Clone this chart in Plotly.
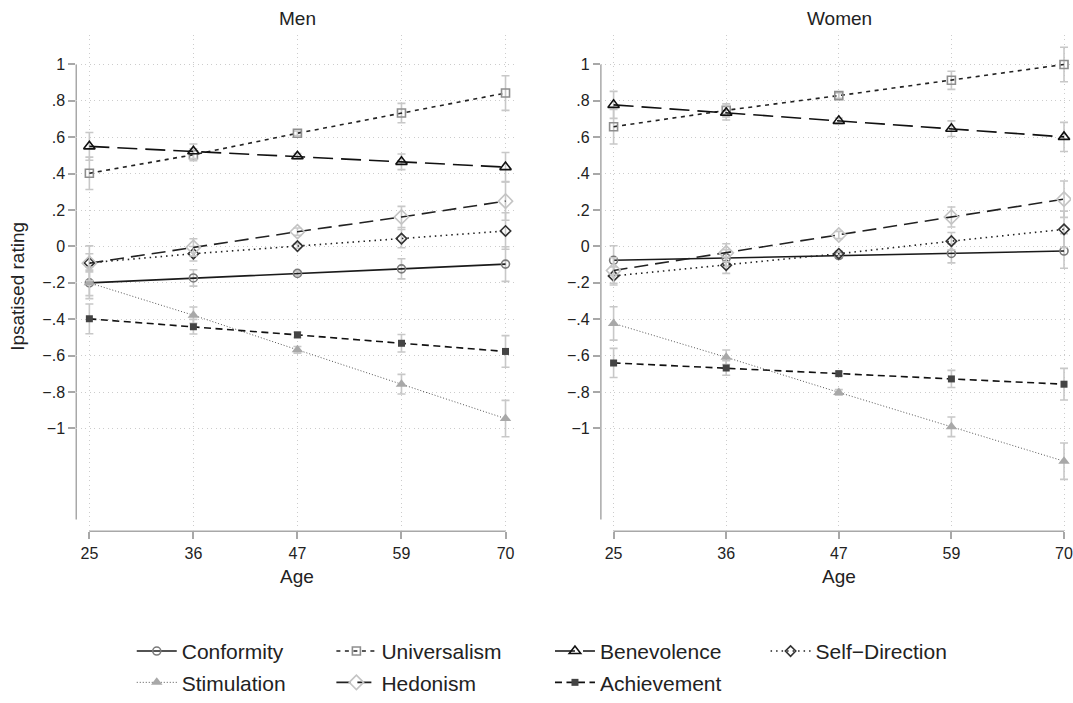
import plotly.graph_objects as go

W, H = 1073, 703

# ---------------- data ----------------
ages = ["25", "36", "47", "59", "70"]
series_names = ["Conformity", "Universalism", "Benevolence", "Self\u2212Direction",
                "Stimulation", "Hedonism", "Achievement"]

men_conformity = [-0.200, -0.173, -0.148, -0.123, -0.097]
men_universalism = [0.402, 0.504, 0.622, 0.733, 0.843]
men_benevolence = [0.550, 0.523, 0.496, 0.465, 0.436]
men_selfdirection = [-0.090, -0.040, 0.002, 0.043, 0.085]
men_stimulation = [-0.200, -0.378, -0.568, -0.757, -0.946]
men_hedonism = [-0.092, -0.005, 0.081, 0.162, 0.249]
men_achievement = [-0.398, -0.441, -0.486, -0.532, -0.577]

men_conformity_err = [0.070, 0.045, 0.012, 0.055, 0.095]
men_universalism_err = [0.089, 0.033, 0.012, 0.053, 0.095]
men_benevolence_err = [0.076, 0.040, 0.015, 0.043, 0.080]
men_selfdirection_err = [0.050, 0.040, 0.012, 0.050, 0.100]
men_stimulation_err = [0.087, 0.045, 0.018, 0.054, 0.100]
men_hedonism_err = [0.095, 0.047, 0.020, 0.058, 0.105]
men_achievement_err = [0.082, 0.040, 0.015, 0.048, 0.087]

women_conformity = [-0.076, -0.063, -0.050, -0.038, -0.025]
women_universalism = [0.658, 0.748, 0.829, 0.913, 1.000]
women_benevolence = [0.778, 0.735, 0.690, 0.647, 0.602]
women_selfdirection = [-0.162, -0.103, -0.040, 0.029, 0.094]
women_stimulation = [-0.423, -0.609, -0.802, -0.991, -1.180]
women_hedonism = [-0.132, -0.035, 0.063, 0.162, 0.260]
women_achievement = [-0.640, -0.668, -0.699, -0.728, -0.757]

women_conformity_err = [0.080, 0.045, 0.015, 0.052, 0.095]
women_universalism_err = [0.095, 0.036, 0.015, 0.050, 0.095]
women_benevolence_err = [0.074, 0.040, 0.015, 0.043, 0.080]
women_selfdirection_err = [0.050, 0.045, 0.015, 0.048, 0.100]
women_stimulation_err = [0.092, 0.040, 0.015, 0.054, 0.100]
women_hedonism_err = [0.070, 0.050, 0.020, 0.055, 0.100]
women_achievement_err = [0.080, 0.040, 0.012, 0.047, 0.087]

ytick_vals = [1, 0.8, 0.6, 0.4, 0.2, 0, -0.2, -0.4, -0.6, -0.8, -1]
ytick_text = ["1", ".8", ".6", ".4", ".2", "0", "\u2212.2", "\u2212.4", "\u2212.6", "\u2212.8", "\u22121"]

men = [(men_conformity, men_conformity_err), (men_universalism, men_universalism_err),
       (men_benevolence, men_benevolence_err), (men_selfdirection, men_selfdirection_err),
       (men_stimulation, men_stimulation_err), (men_hedonism, men_hedonism_err),
       (men_achievement, men_achievement_err)]
women = [(women_conformity, women_conformity_err), (women_universalism, women_universalism_err),
         (women_benevolence, women_benevolence_err), (women_selfdirection, women_selfdirection_err),
         (women_stimulation, women_stimulation_err), (women_hedonism, women_hedonism_err),
         (women_achievement, women_achievement_err)]

# ---------------- styles ----------------
styles = {
    "Conformity": dict(line=dict(color="#1a1a1a", width=1.6, dash="solid"),
                       marker=dict(symbol="circle-open", color="#7a7a7a", size=8, line=dict(width=1.6))),
    "Universalism": dict(line=dict(color="#222222", width=1.6, dash="4px,4.5px"),
                         marker=dict(symbol="square-open", color="#8e8e8e", size=8, line=dict(width=1.6))),
    "Benevolence": dict(line=dict(color="#111111", width=1.6, dash="20px,8px"),
                        marker=dict(symbol="triangle-up-open", color="#111111", size=10, line=dict(width=1.6))),
    "Self\u2212Direction": dict(line=dict(color="#222222", width=1.6, dash="1.5px,4px"),
                               marker=dict(symbol="diamond-open", color="#333333", size=8, line=dict(width=1.6))),
    "Stimulation": dict(line=dict(color="#555555", width=1.0, dash="1px,2px"),
                        marker=dict(symbol="triangle-up", color="#a8a8a8", size=10)),
    "Hedonism": dict(line=dict(color="#222222", width=1.6, dash="14px,7px"),
                     marker=dict(symbol="diamond-open", color="#c4c4c4", size=11, line=dict(width=1.6))),
    "Achievement": dict(line=dict(color="#111111", width=1.6, dash="7px,4.5px"),
                        marker=dict(symbol="square", color="#444444", size=7)),
}
legend_of = {"Conformity": "legend", "Stimulation": "legend",
             "Universalism": "legend2", "Hedonism": "legend2",
             "Benevolence": "legend3", "Achievement": "legend3",
             "Self\u2212Direction": "legend4"}

ERR_COLOR = "#c8c8c8"

def px_x(p):
    return p / W

def px_y(p):
    return 1 - p / H

fig = go.Figure()
xpos = list(range(len(ages)))

for panel, (data, xa, ya) in enumerate([(men, "x", "y"), (women, "x2", "y2")]):
    for name, (vals, errs) in zip(series_names, data):
        st = styles[name]
        fig.add_trace(go.Scatter(
            x=xpos, y=vals, name=name, mode="lines+markers",
            xaxis=xa, yaxis=ya,
            line=st["line"], marker=st["marker"],
            error_y=dict(type="data", array=errs, visible=True, color=ERR_COLOR,
                         thickness=1.6, width=4),
            showlegend=(panel == 0), legend=legend_of[name],
            legendgroup=name,
        ))

# ---------------- axes ----------------
yr = [-1.5655, 1.1647]
axis_font = dict(family="Liberation Sans, Arial, sans-serif", size=16, color="#222222")
grid = dict(showgrid=True, gridcolor="#cccccc", griddash="1px,3.5px", gridwidth=1)
common_x = dict(grid, tickmode="array", tickvals=xpos, ticktext=ages, showline=False, zeroline=False,
                ticks="outside", ticklen=7, tickcolor="#a8a8a8", tickwidth=1.5,
                tickfont=axis_font, ticklabeloverflow="allow")
common_y = dict(grid, tickmode="array", tickvals=ytick_vals, ticktext=ytick_text, range=yr,
                showline=False, zeroline=False, ticks="outside", ticklen=7,
                tickcolor="#a8a8a8", tickwidth=1.5, tickfont=axis_font,
                domain=[px_y(539), px_y(35)])

fig.update_layout(
    xaxis=dict(common_x, domain=[px_x(76.4), px_x(514.8)], range=[-0.126, 4.08], anchor="y"),
    yaxis=dict(common_y, anchor="x"),
    xaxis2=dict(common_x, domain=[px_x(602), 1.0], range=[-0.113, 4.0 + (1073 - 1066) / 112.8],
                anchor="y2"),
    yaxis2=dict(common_y, anchor="x2"),
)

# axis lines (Stata style, offset)
for xa, ya in [("x", "y"), ("x2", "y2")]:
    fig.add_shape(type="line", xref=f"{xa} domain", yref=ya, x0=0, x1=0, y0=-1.5, y1=1,
                  line=dict(color="#a8a8a8", width=1.5), layer="below")
    fig.add_shape(type="line", xref=xa, yref=f"{ya} domain", x0=0, x1=4, y0=0, y1=0,
                  line=dict(color="#a8a8a8", width=1.5), layer="below")

# ---------------- text ----------------
title_font = dict(family="Liberation Sans, Arial, sans-serif", size=19, color="#222222")
ann = []
for txt, xc in [("Men", 298), ("Women", 840.6)]:
    ann.append(dict(text=txt, x=px_x(xc), y=px_y(19), xref="paper", yref="paper",
                    showarrow=False, font=title_font, xanchor="center", yanchor="middle"))
for xc in [298, 840.6]:
    ann.append(dict(text="Age", x=px_x(xc), y=px_y(584.5), xref="paper", yref="paper",
                    showarrow=False, font=title_font, xanchor="center", yanchor="middle"))
ann.append(dict(text="Ipsatised rating", x=px_x(18), y=px_y(290), xref="paper", yref="paper",
                showarrow=False, font=title_font, textangle=-90,
                xanchor="center", yanchor="middle"))

legend_font = dict(family="Liberation Sans, Arial, sans-serif", size=21, color="#222222")
leg_common = dict(orientation="v", font=legend_font, bgcolor="rgba(0,0,0,0)",
                  borderwidth=0, xanchor="left", yanchor="top", yref="paper", xref="paper",
                  itemwidth=40, tracegroupgap=1, itemclick=False, itemdoubleclick=False)
leg_x = [132, 332, 551, 767]
leg_top = 640

fig.update_layout(
    width=W, height=H,
    margin=dict(l=0, r=0, t=0, b=0),
    paper_bgcolor="white", plot_bgcolor="white",
    annotations=ann,
    legend=dict(leg_common, x=px_x(leg_x[0]), y=px_y(leg_top)),
    legend2=dict(leg_common, x=px_x(leg_x[1]), y=px_y(leg_top)),
    legend3=dict(leg_common, x=px_x(leg_x[2]), y=px_y(leg_top)),
    legend4=dict(leg_common, x=px_x(leg_x[3]), y=px_y(leg_top)),
)

# pin the figure to the window's top-left corner so the page is exactly the window size
page_js = ("document.documentElement.style.margin='0';document.body.style.margin='0';"
           "document.documentElement.style.overflow='hidden';document.body.style.overflow='hidden';"
           "var gd=document.getElementById('{plot_id}');gd.style.position='fixed';"
           "gd.style.left='0px';gd.style.top='0px';")
fig.write_html("out.html", post_script=page_js, config={"displayModeBar": False})
